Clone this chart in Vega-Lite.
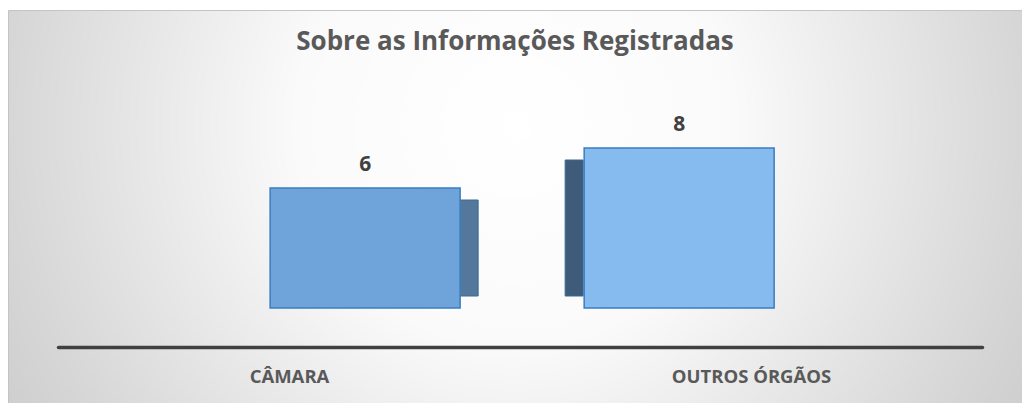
{
  "$schema": "https://vega.github.io/schema/vega-lite/v6.json",
  "width": 1014,
  "height": 393,
  "autosize": {"type": "none"},
  "padding": {"left": 8, "top": 10, "right": 0, "bottom": 0},
  "background": "#ffffff",
  "title": {
    "text": "Sobre as Informações Registradas",
    "font": "Open Sans",
    "fontSize": 26,
    "fontWeight": "bold",
    "color": "#595959",
    "anchor": "middle",
    "baseline": "alphabetic",
    "offset": -66
  },
  "config": {
    "view": {
      "stroke": "#c4c4c4",
      "strokeWidth": 1,
      "fill": {
        "gradient": "radial",
        "x1": 0.5, "y1": 0.42, "r1": 0,
        "x2": 0.5, "y2": 0.42, "r2": 0.72,
        "stops": [
          {"offset": 0, "color": "#ffffff"},
          {"offset": 0.3, "color": "#fafafa"},
          {"offset": 0.7, "color": "#d6d6d6"},
          {"offset": 1, "color": "#bebebe"}
        ]
      }
    }
  },
  "data": {
    "values": [
      {"categoria": "CÂMARA", "valor": 6},
      {"categoria": "OUTROS ÓRGÃOS", "valor": 8}
    ]
  },
  "layer": [
    {
      "encoding": {
        "x": {
          "field": "categoria", "type": "nominal", "sort": null,
          "scale": {"type": "band", "paddingInner": 0.395, "paddingOuter": 0.812, "align": 0.514},
          "axis": null
        },
        "y": {
          "field": "valor", "type": "quantitative",
          "scale": {"domain": [-4.75, 14.9], "nice": false, "zero": false},
          "axis": null
        }
      },
      "layer": [
        {
          "mark": {
            "type": "bar",
            "width": 18,
            "xOffset": {"expr": "datum.categoria === 'CÂMARA' ? 104 : -105"},
            "yOffset": 12,
            "y2Offset": -12,
            "stroke": "#3a6a99",
            "strokeWidth": 1
          },
          "encoding": {
            "y2": {"datum": 0},
            "color": {
              "field": "categoria", "type": "nominal", "sort": null,
              "scale": {"range": ["#54789c", "#3e5b79"]},
              "legend": null
            }
          }
        },
        {
          "mark": {"type": "bar", "stroke": "#3a7dc0", "strokeWidth": 1.5},
          "encoding": {
            "y2": {"datum": 0},
            "fill": {
              "field": "categoria", "type": "nominal", "sort": null,
              "scale": {"range": ["#6ea4da", "#85bbee"]},
              "legend": null
            }
          }
        },
        {
          "mark": {"type": "text", "font": "Open Sans", "fontSize": 21, "fontWeight": "bold", "color": "#404040", "baseline": "alphabetic", "dy": -17},
          "encoding": {
            "text": {"field": "valor", "type": "quantitative"}
          }
        }
      ]
    },
    {
      "mark": {"type": "point", "opacity": 0},
      "encoding": {
        "x": {
          "field": "categoria", "type": "nominal", "sort": null,
          "scale": {"type": "point", "range": [50, 974], "padding": 0.5, "align": 0.5},
          "axis": {
            "title": null,
            "orient": "bottom",
            "offset": -56,
            "labelAngle": 0,
            "ticks": false,
            "grid": false,
            "domain": true,
            "domainColor": "#404040",
            "domainWidth": 3.5,
            "domainCap": "round",
            "labelFont": "Open Sans",
            "labelFontSize": 18.5,
            "labelFontWeight": "bold",
            "labelColor": "#595959",
            "labelPadding": 20
          }
        },
        "y": {"datum": 0, "type": "quantitative", "scale": {"domain": [-4.75, 14.9], "nice": false, "zero": false}, "axis": null}
      }
    }
  ],
  "resolve": {"scale": {"x": "independent", "color": "independent", "fill": "independent"}, "axis": {"x": "independent"}}
}
